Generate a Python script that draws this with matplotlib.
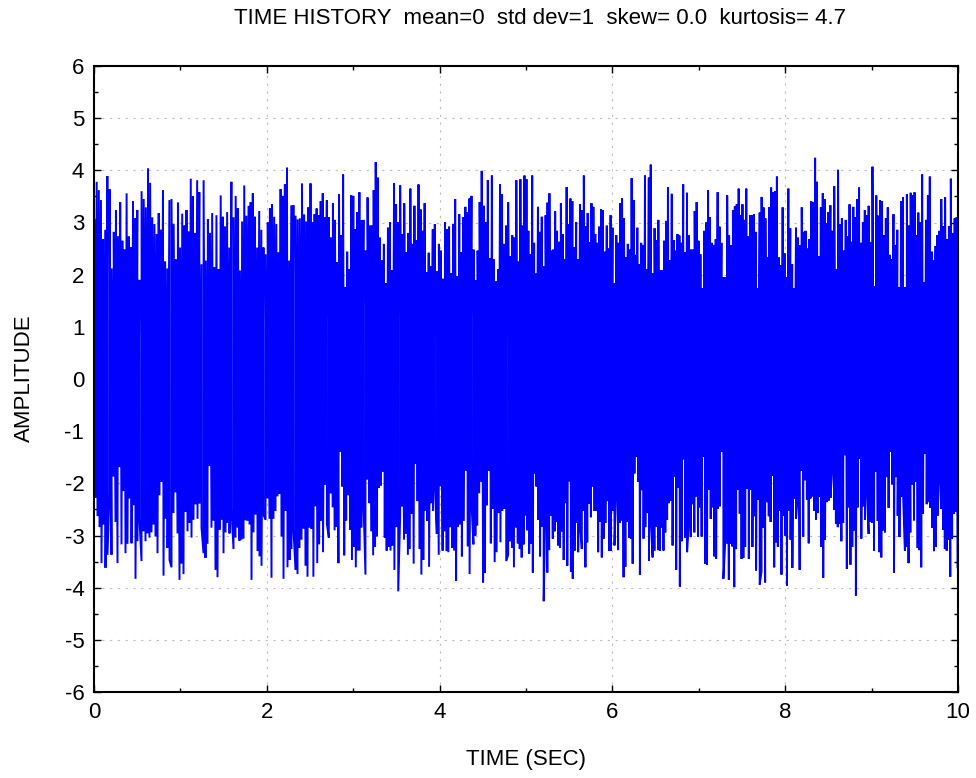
import numpy as np
import matplotlib
matplotlib.use("Agg")
import matplotlib.pyplot as plt
from matplotlib.ticker import MultipleLocator

plt.rcParams['font.family'] = ['Liberation Sans', 'DejaVu Sans']
plt.rcParams['axes.unicode_minus'] = False

TITLE = "TIME HISTORY  mean=0  std dev=1  skew= 0.0  kurtosis= 4.7"
X_LABEL = "TIME (SEC)"
Y_LABEL = "AMPLITUDE"
DURATION = 10.0

# Positive excursions of the record, one list per 2.5 s segment
upper_q1 = [3.05, 3.78, 3.62, 3.43, 2.68, 2.86, 3.89, 3.64, 2.12, 2.82, 3.24, 2.73, 3.39, 2.65, 2.48,
            3.56, 2.73, 2.52, 3.41, 3.08, 3.24, 1.90, 3.60, 3.45, 3.29, 4.04, 3.76, 3.10, 2.97, 2.78,
            3.18, 2.86, 3.62, 2.25, 2.12, 3.43, 3.45, 2.97, 2.29, 3.38, 2.52, 3.17, 2.94, 3.24, 2.83,
            3.84, 3.50, 2.80, 3.81, 3.58, 2.20, 3.81, 2.27, 3.06, 2.80, 3.18, 2.14, 3.14, 2.10, 3.52,
            3.11, 2.92, 3.20, 2.52, 3.78, 3.10, 3.51, 3.27, 2.08, 3.02, 3.71, 3.13, 3.32, 3.39, 3.56,
            3.11, 2.52, 3.22, 2.86, 2.52, 2.39, 3.00, 3.27, 3.35, 3.11, 2.97, 2.43, 3.64, 3.51, 3.73,
            4.05, 2.27, 3.33, 3.33, 3.13, 3.06, 3.08, 3.75, 3.15, 3.02, 3.29]
upper_q2 = [3.75, 3.00, 3.16, 3.27, 3.14, 3.41, 3.56, 3.10, 3.43, 3.10, 2.71, 3.37, 3.05, 2.24, 3.54,
            2.76, 3.92, 1.76, 2.44, 2.10, 3.52, 3.51, 2.87, 3.20, 3.58, 3.04, 3.05, 2.46, 3.48, 2.94,
            2.94, 3.62, 4.16, 3.86, 2.71, 2.27, 2.59, 1.84, 2.90, 3.01, 2.08, 3.75, 3.35, 3.00, 3.71,
            2.78, 3.37, 2.43, 2.80, 3.65, 2.59, 3.32, 2.66, 3.73, 3.25, 2.84, 3.37, 2.05, 2.42, 2.16,
            2.87, 2.97, 2.06, 2.59, 2.46, 1.92, 3.00, 2.87, 2.92, 2.03, 2.97, 3.45, 1.97, 3.16, 2.43,
            3.10, 3.30, 3.19, 3.46, 3.51, 2.48, 1.89, 2.46, 3.39, 3.99, 3.32, 3.01, 3.81, 2.31, 3.90,
            2.29, 1.87, 2.10, 3.73, 3.54, 2.59, 2.94, 3.39, 2.35, 2.76, 2.71, 3.81, 2.25, 3.83, 2.94,
            3.90]
upper_q3 = [3.83, 2.84, 2.39, 3.90, 2.61, 2.02, 3.30, 2.82, 3.11, 2.16, 3.14, 3.38, 3.56, 2.46, 2.48,
            3.22, 2.84, 2.63, 3.37, 2.78, 2.29, 3.68, 2.97, 3.46, 3.41, 2.52, 3.01, 2.29, 3.35, 3.24,
            3.90, 2.93, 3.18, 2.62, 3.37, 3.30, 2.78, 2.61, 2.92, 3.25, 3.24, 2.44, 2.94, 2.50, 3.14,
            2.90, 1.84, 2.76, 2.61, 3.37, 3.46, 3.08, 2.33, 2.59, 2.48, 3.85, 3.43, 2.38, 2.90, 2.20,
            2.61, 2.57, 3.90, 2.10, 3.86, 4.11, 2.03, 2.89, 2.66, 3.05, 2.08, 2.08, 2.65, 3.03, 3.68,
            2.27, 3.55, 2.66, 2.46, 2.78, 2.75, 2.61, 3.73, 2.43, 3.57, 2.75, 2.48, 2.48, 3.22, 3.39,
            2.65, 2.39, 1.74, 2.84, 3.00, 3.62, 3.10, 2.61, 2.57, 2.68, 3.58, 2.92, 2.61, 1.95, 1.95,
            3.52, 2.75, 2.56, 3.24, 3.31, 3.35, 3.65, 3.14]
upper_q4 = [3.35, 3.05, 3.65, 2.73, 3.14, 3.14, 3.16, 2.82, 1.74, 3.19, 3.49, 3.29, 3.08, 2.34, 3.29,
            3.67, 3.58, 3.60, 3.88, 2.33, 2.18, 3.29, 2.41, 1.95, 3.65, 2.89, 2.20, 1.74, 2.90, 2.71,
            2.56, 3.29, 2.82, 2.84, 2.50, 2.68, 3.41, 3.39, 4.24, 3.78, 2.35, 3.29, 3.56, 3.45, 2.98,
            3.20, 3.33, 2.84, 3.70, 2.10, 4.01, 2.97, 3.08, 2.46, 3.05, 2.73, 3.35, 2.63, 3.30, 3.10,
            3.45, 3.67, 2.61, 3.01, 3.24, 3.14, 3.32, 2.62, 4.07, 1.78, 3.52, 3.13, 3.43, 3.41, 2.75,
            3.08, 3.29, 2.38, 2.30, 3.16, 2.57, 2.86, 1.76, 3.41, 3.48, 1.76, 3.54, 2.94, 3.57, 3.52,
            3.58, 2.76, 3.19, 3.01, 3.92, 1.85, 3.05, 3.52, 3.88, 2.44, 2.27, 2.55, 2.76, 2.84, 3.45,
            2.93, 3.48, 2.68, 2.93, 3.84, 2.80, 3.08, 3.10]

# Negative excursions of the record, one list per 2.5 s segment
lower_q1 = [-2.28, -2.63, -2.84, -3.53, -2.79, -3.62, -3.37, -2.20, -3.37, -1.87, -2.74, -3.53, -1.69,
            -3.17, -2.15, -3.34, -3.16, -2.29, -3.15, -2.42, -3.83, -3.11, -2.70, -3.49, -2.92, -3.11,
            -2.96, -3.04, -2.94, -2.79, -3.02, -3.34, -2.23, -1.97, -3.77, -2.68, -3.24, -3.47, -3.61,
            -2.57, -2.17, -2.96, -3.85, -3.54, -3.74, -2.55, -2.92, -2.76, -3.04, -2.70, -2.40, -2.68,
            -2.39, -2.85, -3.34, -3.43, -3.16, -1.67, -2.85, -2.71, -3.66, -3.80, -2.89, -2.70, -3.34,
            -2.94, -2.76, -2.96, -2.51, -3.26, -3.04, -2.85, -3.10, -3.08, -3.06, -2.71, -2.72, -2.79,
            -3.85, -2.94, -2.60, -3.30, -3.40, -3.58, -2.60, -2.70, -2.29, -2.68, -3.81, -2.68, -2.53,
            -2.25, -2.20, -3.02, -3.83, -2.53, -3.61, -3.47, -3.26, -2.90, -3.66, -3.74, -3.24, -3.08,
            -2.87, -3.58, -3.79, -2.85]
lower_q2 = [-2.87, -3.79, -2.44, -3.53, -3.17, -2.72, -3.32, -2.02, -2.78, -3.04, -2.19, -2.46, -2.90,
            -2.83, -3.53, -1.40, -2.06, -3.38, -2.71, -2.23, -2.89, -3.47, -3.22, -3.61, -3.29, -3.29,
            -2.85, -2.39, -3.75, -1.93, -2.38, -2.92, -3.38, -3.22, -3.02, -2.08, -2.04, -1.78, -3.04,
            -3.29, -3.22, -3.29, -3.19, -3.66, -2.84, -4.07, -2.63, -2.44, -3.08, -2.96, -3.37, -3.26,
            -2.58, -3.54, -1.63, -2.34, -3.26, -3.75, -3.47, -2.52, -2.72, -3.60, -2.38, -2.53, -2.07,
            -2.97, -3.37, -2.06, -3.29, -2.92, -3.30, -3.32, -2.84, -3.24, -3.29, -3.87, -2.83, -2.79,
            -3.40, -2.72, -1.76, -3.21, -3.74, -2.40, -3.17, -3.00, -2.81, -2.19, -1.97, -3.90, -3.72,
            -2.42, -1.76, -3.15, -2.49, -3.51, -3.32, -2.57, -3.13, -2.53, -2.49, -3.49, -3.37, -3.11,
            -3.24, -3.61, -2.85, -3.15, -3.26, -3.42, -3.17, -2.62]
lower_q3 = [-2.90, -3.35, -3.16, -3.71, -1.81, -2.06, -2.70, -3.40, -2.83, -4.26, -2.31, -3.71, -3.28,
            -2.62, -3.06, -2.92, -2.74, -3.19, -3.24, -2.92, -3.47, -2.38, -3.58, -1.96, -3.69, -3.83,
            -3.29, -2.76, -3.32, -2.83, -3.26, -2.52, -3.61, -3.13, -2.39, -2.65, -2.06, -2.53, -2.52,
            -3.32, -2.74, -3.42, -3.06, -2.76, -2.34, -3.29, -3.29, -2.53, -3.19, -2.07, -3.28, -2.76,
            -2.71, -3.80, -3.60, -2.74, -3.04, -3.06, -3.54, -1.81, -1.49, -1.97, -3.75, -2.13, -3.06,
            -2.84, -2.57, -3.48, -2.72, -3.42, -3.29, -2.83, -3.28, -3.29, -2.85, -3.29, -2.94, -2.70,
            -2.38, -2.33, -3.19, -1.87, -3.66, -2.08, -3.98, -3.11, -1.54, -3.04, -3.32, -2.68, -3.03,
            -2.40, -2.94, -2.25, -3.02, -2.46, -3.02, -1.49, -3.54, -3.56, -2.12, -2.68, -2.46, -3.40,
            -3.45, -2.49, -2.44, -1.40, -3.83, -3.13, -3.15, -3.85, -3.16, -3.21, -3.99, -3.26, -2.12,
            -2.58, -3.45]
lower_q4 = [-3.43, -3.22, -2.10, -3.45, -2.12, -3.22, -2.63, -3.67, -2.31, -3.94, -3.69, -2.85, -3.90,
            -2.36, -2.63, -2.74, -1.85, -3.61, -3.13, -3.22, -2.53, -3.75, -2.62, -3.00, -3.96, -2.52,
            -3.08, -3.62, -2.29, -2.68, -2.23, -3.66, -1.76, -3.02, -1.94, -2.31, -3.15, -2.29, -2.25,
            -2.53, -2.70, -2.57, -2.26, -3.22, -3.81, -3.08, -2.36, -2.33, -2.28, -1.70, -2.51, -2.78,
            -2.84, -2.78, -3.11, -2.76, -1.46, -3.64, -2.46, -3.56, -3.22, -2.90, -4.15, -2.46, -1.53,
            -3.06, -2.44, -2.70, -2.12, -2.97, -2.74, -2.76, -3.29, -1.78, -2.72, -3.32, -3.42, -2.90,
            -2.94, -1.88, -2.47, -1.40, -2.02, -3.71, -1.88, -2.62, -3.03, -2.26, -2.23, -3.29, -3.22,
            -3.53, -2.94, -2.02, -2.71, -1.97, -3.24, -3.28, -3.61, -2.58, -1.43, -2.40, -2.36, -2.47,
            -2.85, -3.30, -3.22, -2.62, -1.76, -2.49, -2.89, -3.26, -3.29, -3.08, -3.79, -3.06, -2.58,
            -2.55, -3.61]

upper_segments = [upper_q1, upper_q2, upper_q3, upper_q4]
lower_segments = [lower_q1, lower_q2, lower_q3, lower_q4]


def segment_times(values, k, n_seg, phase):
    span = DURATION / n_seg
    n = len(values)
    return k * span + (np.arange(n) + phase) / n * span


times, amps = [], []
for k, (up, lo) in enumerate(zip(upper_segments, lower_segments)):
    times.append(segment_times(up, k, len(upper_segments), 0.25))
    amps.append(np.asarray(up))
    times.append(segment_times(lo, k, len(lower_segments), 0.75))
    amps.append(np.asarray(lo))
t = np.concatenate(times)
y = np.concatenate(amps)
order = np.argsort(t, kind="stable")
t, y = t[order], y[order]

W, H = 976, 778
fig = plt.figure(figsize=(W / 100, H / 100), dpi=100)
ax = fig.add_axes([94 / W, 1 - 692 / H, 864 / W, 626 / H])

ax.plot(t, y, color="#0000ff", linewidth=1.4, solid_joinstyle="miter", zorder=2)

ax.set_xlim(0, DURATION)
ax.set_ylim(-6, 6)
ax.xaxis.set_major_locator(MultipleLocator(2))
ax.xaxis.set_minor_locator(MultipleLocator(1))
ax.yaxis.set_major_locator(MultipleLocator(1))
ax.yaxis.set_minor_locator(MultipleLocator(0.5))
ax.tick_params(which="both", direction="in", top=True, right=True, width=1.0, color="black")
ax.tick_params(which="major", length=5, labelsize=16)
ax.tick_params(which="minor", length=3)
ax.tick_params(axis="x", which="major", pad=7)
ax.tick_params(axis="y", which="major", pad=7)

ax.set_axisbelow(True)
ax.grid(True, which="major", color="#bdbdbd", linestyle=(0, (2, 5)), linewidth=0.8)
for s in ax.spines.values():
    s.set_linewidth(1.5)
    s.set_zorder(3)

fig.text(540 / W, 1 - 19 / H, TITLE, ha="center", va="center", fontsize=16)
fig.text(526 / W, 1 - 759 / H, X_LABEL, ha="center", va="center", fontsize=16)
fig.text(24 / W, 1 - 378 / H, Y_LABEL, ha="center", va="center", rotation=90, fontsize=16)

fig.savefig("out.png", dpi=100)
